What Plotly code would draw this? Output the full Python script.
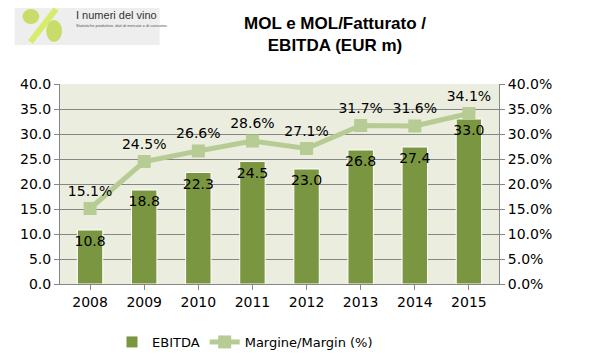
import plotly.graph_objects as go

years = ["2008", "2009", "2010", "2011", "2012", "2013", "2014", "2015"]
ebitda = [10.8, 18.8, 22.3, 24.5, 23.0, 26.8, 27.4, 33.0]
margin = [15.1, 24.5, 26.6, 28.6, 27.1, 31.7, 31.6, 34.1]
left_ticks = [0, 5, 10, 15, 20, 25, 30, 35, 40]
right_ticks = [0, 5, 10, 15, 20, 25, 30, 35, 40]

# page body has an 8px margin; figure is sized so it fits the 596x364 window
OFF = 8
W, H = 596 - OFF, 364 - OFF
L, R, T, B = 54 - OFF, 97, 84 - OFF, 80
pw, ph = W - L - R, H - T - B

def px(x):  # window pixel -> paper x
    return (x - OFF - L) / pw

def py(y):  # window pixel -> paper y
    return (H - B - (y - OFF)) / ph

FONT = "DejaVu Sans"

fig = go.Figure()
fig.add_trace(go.Bar(
    x=years, y=ebitda, name="EBITDA",
    marker=dict(color="#7A9640", line=dict(color="white", width=1)),
    text=[f"{v:.1f}" for v in ebitda], textposition="inside", textangle=0,
    insidetextanchor="end", constraintext="none",
    insidetextfont=dict(color="black", size=14, family=FONT),
    yaxis="y",
))
fig.add_trace(go.Scatter(
    x=years, y=margin, name="Margine/Margin (%)", mode="lines+markers+text",
    line=dict(color="#B7CC94", width=5),
    marker=dict(symbol="square", size=13, color="#B7CC94"),
    text=[f"{v:.1f}%" for v in margin], textposition="top center",
    textfont=dict(color="black", size=14, family=FONT),
    yaxis="y2",
))

shapes = [
    dict(type="rect", xref="paper", yref="paper", x0=px(8), x1=px(155), y0=py(45), y1=py(8),
         fillcolor="#EEEEEE", line=dict(width=0), layer="below"),
    dict(type="line", xref="paper", yref="paper", x0=px(24), y0=py(42), x1=px(50), y1=py(9),
         line=dict(color="#D6EC6A", width=6)),
    dict(type="circle", xref="paper", yref="paper", x0=px(16), x1=px(33), y0=py(24), y1=py(9),
         fillcolor="#C8DC6A", line=dict(width=0)),
    dict(type="circle", xref="paper", yref="paper", x0=px(40), x1=px(56), y0=py(42), y1=py(20),
         fillcolor="#C8DC6A", line=dict(width=0)),
]

annotations = [
    dict(text="<b>MOL e MOL/Fatturato /<br>EBITDA (EUR m)</b>", xref="paper", yref="paper",
         x=px(333), y=py(34), xanchor="center", yanchor="middle", showarrow=False,
         font=dict(family="Liberation Sans", size=17, color="black")),
    dict(text="I numeri del vino", xref="paper", yref="paper", x=px(68), y=py(15),
         xanchor="left", yanchor="middle", showarrow=False,
         font=dict(family="Liberation Sans", size=11, color="#333333")),
    dict(text="Statistiche produttive, dati di mercato e di consumo.", xref="paper", yref="paper",
         x=px(68), y=py(26), xanchor="left", yanchor="middle", showarrow=False,
         font=dict(family="Liberation Sans", size=4, color="#555555")),
]

fig.update_layout(
    width=W, height=H,
    margin=dict(l=L, r=R, t=T, b=B),
    paper_bgcolor="white",
    plot_bgcolor="#EBEEDF",
    bargap=0.53,
    showlegend=True,
    legend=dict(orientation="h", xref="container", yref="container",
                x=(112 - OFF) / W, xanchor="left", y=1 - (342 - OFF) / H, yanchor="middle",
                font=dict(family=FONT, size=13, color="black"), itemwidth=30),
    xaxis=dict(tickfont=dict(family=FONT, size=14, color="black"), showline=True,
               linecolor="#868686", ticks="outside", tickcolor="#868686", ticklen=5,
               showgrid=False),
    yaxis=dict(range=[0, 40], tickvals=left_ticks, ticktext=[f"{v:.1f}" for v in left_ticks],
               tickfont=dict(family=FONT, size=14, color="black"), showline=True,
               linecolor="#868686", ticks="outside", tickcolor="#868686", ticklen=5,
               gridcolor="#868686", gridwidth=1, zeroline=False),
    yaxis2=dict(range=[0, 40], overlaying="y", side="right", tickvals=right_ticks,
                ticktext=[f"{v:.1f}%" for v in right_ticks],
                tickfont=dict(family=FONT, size=14, color="black"), showline=True,
                linecolor="#868686", ticks="outside", tickcolor="#868686", ticklen=5,
                showgrid=False, zeroline=False),
    shapes=shapes,
    annotations=annotations,
)

fig.write_html("out.html")
